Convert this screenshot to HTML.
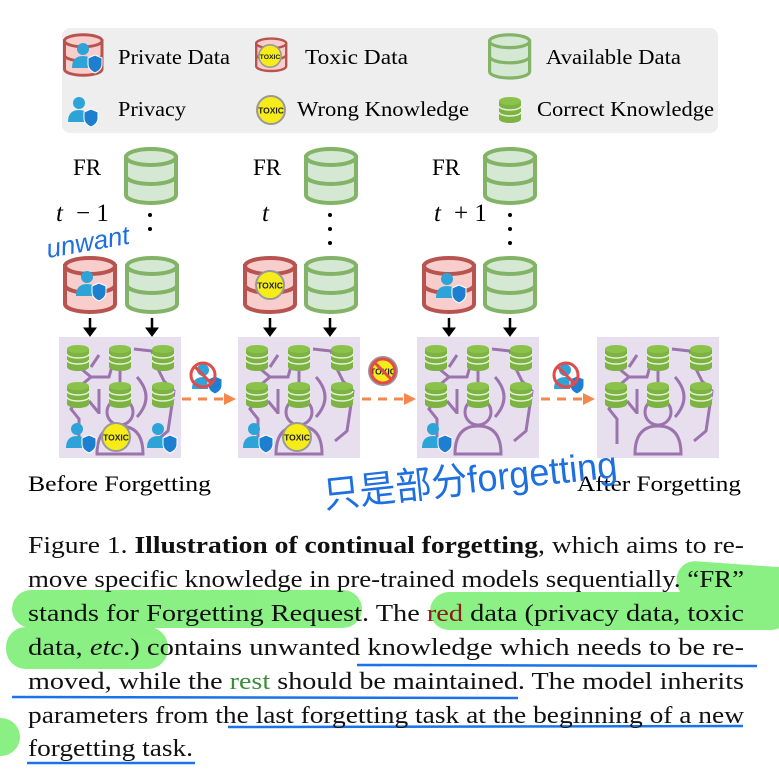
<!DOCTYPE html>
<html><head><meta charset="utf-8"><style>
html,body{margin:0;padding:0;background:#fff;}
svg{display:block;}
</style></head><body>
<svg width="779" height="778" viewBox="0 0 779 778" xmlns="http://www.w3.org/2000/svg" font-family="'Liberation Serif', serif">
<defs>
<g id="dbg">
<path d="M2 9 v38 a25 8 0 0 0 50 0 v-38 z" fill="#d5e8d4" stroke="#82b366" stroke-width="4"/>
<ellipse cx="27" cy="9" rx="25" ry="8" fill="#d5e8d4" stroke="#82b366" stroke-width="4"/>
<path d="M2 28 a25 8 0 0 0 50 0" fill="none" stroke="#82b366" stroke-width="4"/>
</g>
<g id="dbr">
<path d="M2 9 v38 a25 8 0 0 0 50 0 v-38 z" fill="#f8cecc" stroke="#b85450" stroke-width="4"/>
<ellipse cx="27" cy="9" rx="25" ry="8" fill="#f8cecc" stroke="#b85450" stroke-width="4"/>
<path d="M2 28 a25 8 0 0 0 50 0" fill="none" stroke="#b85450" stroke-width="4"/>
</g>
<g id="sdb">
<path d="M0 4 v18 a11 4 0 0 0 22 0 v-18 z" fill="#7cb342"/>
<ellipse cx="11" cy="4" rx="11" ry="4" fill="#8bc34a"/>
<path d="M0 9 a11 4 0 0 0 22 0 M0 15 a11 4 0 0 0 22 0" fill="none" stroke="#e6f0d8" stroke-width="1.5"/>
</g>
<g id="person">
<circle cx="11" cy="7" r="6" fill="#2ea3d8"/>
<path d="M0 26 q0 -12 11 -12 q11 0 11 12 z" fill="#2ea3d8"/>
<path d="M16 16 l7 -3 l7 3 v6 q0 6 -7 9 q-7 -3 -7 -9 z" fill="#1e7fd0" stroke="#fff" stroke-width="1"/>
</g>
<g id="toxic">
<circle cx="15" cy="15" r="14" fill="#f5ec1a" stroke="#999" stroke-width="2"/>
<text x="15" y="18.5" font-family="'Liberation Sans',sans-serif" font-size="8.5" font-weight="bold" text-anchor="middle" fill="#222">TOXIC</text>
</g>
<g id="model">
<rect x="0" y="0" width="122" height="121" fill="#e8dfee"/>
<g fill="none" stroke="#9b73ad" stroke-width="3">
<path d="M20 30 l12 10 l-12 10 M32 40 h18 l5 -18 M40 18 l-8 12 M61 22 v30 M75 12 l18 2 l3 10 M95 24 l10 20 l10 10 l-6 40 l-12 10 M20 60 l-8 12 l8 10 v25 M40 52 v25 M78 40 q18 20 0 40 M30 64 l10 12"/>
<circle cx="61" cy="75" r="13"/>
<path d="M38 117 q0 -28 23 -28 q23 0 23 28 z"/>
</g>
<use href="#sdb" x="8" y="8"/><use href="#sdb" x="50" y="8"/><use href="#sdb" x="93" y="8"/>
<use href="#sdb" x="8" y="45"/><use href="#sdb" x="50" y="45"/><use href="#sdb" x="93" y="45"/>
</g>
<g id="nope">
<circle cx="15" cy="15" r="12" fill="none" stroke="#e24b4b" stroke-width="3"/>
<path d="M6 6 L24 24" stroke="#e24b4b" stroke-width="3"/>
</g>
</defs>

<!-- legend -->
<rect x="62" y="28" width="656" height="105" rx="8" fill="#eeeeee"/>
<g transform="translate(63,34) scale(0.75)"><use href="#dbr"/></g>
<use href="#person" x="72" y="42"/>
<text x="118" y="64" font-size="21" textLength="112" lengthAdjust="spacingAndGlyphs">Private Data</text>
<use href="#dbr" x="0" y="0" transform="translate(255,38) scale(0.6)"/>
<use href="#toxic" transform="translate(258,44) scale(0.8)"/>
<text x="305" y="64" font-size="21" textLength="103" lengthAdjust="spacingAndGlyphs">Toxic Data</text>
<g transform="translate(488,34) scale(0.8)"><use href="#dbg"/></g>
<text x="546" y="64" font-size="21" textLength="135" lengthAdjust="spacingAndGlyphs">Available Data</text>
<use href="#person" x="68" y="96"/>
<text x="118" y="116" font-size="21" textLength="68" lengthAdjust="spacingAndGlyphs">Privacy</text>
<use href="#toxic" x="256" y="95"/>
<text x="297" y="116" font-size="21" textLength="172" lengthAdjust="spacingAndGlyphs">Wrong Knowledge</text>
<use href="#sdb" x="499" y="97"/>
<text x="537" y="116" font-size="21" textLength="177" lengthAdjust="spacingAndGlyphs">Correct Knowledge</text>

<!-- columns -->
<g font-size="23">
<text x="73" y="175">FR</text><text x="253" y="175">FR</text><text x="432" y="175">FR</text>
<text x="56" y="221" font-style="italic" font-size="25">t</text><text x="76" y="221" font-size="25">− 1</text>
<text x="262" y="221" font-style="italic" font-size="25">t</text>
<text x="434" y="221" font-style="italic" font-size="25">t</text><text x="454" y="221" font-size="25">+ 1</text>
</g>
<use href="#dbg" x="124" y="148"/><use href="#dbg" x="304" y="148"/><use href="#dbg" x="483" y="148"/>
<g fill="#000">
<circle cx="150" cy="215" r="2"/><circle cx="150" cy="229" r="2"/>
<circle cx="330" cy="215" r="2"/><circle cx="330" cy="229" r="2"/><circle cx="330" cy="243" r="2"/>
<circle cx="510" cy="215" r="2"/><circle cx="510" cy="229" r="2"/><circle cx="510" cy="243" r="2"/>
</g>
<use href="#dbr" x="63" y="257"/><use href="#person" x="76" y="270"/>
<use href="#dbg" x="125" y="257"/>
<use href="#dbr" x="243" y="257"/><use href="#toxic" x="255" y="270"/>
<use href="#dbg" x="304" y="257"/>
<use href="#dbr" x="422" y="257"/><use href="#person" x="436" y="272"/>
<use href="#dbg" x="483" y="257"/>
<g stroke="#000" stroke-width="2.5" fill="#000">
<path d="M90 318 v12 M152 318 v12 M270 318 v12 M330 318 v12 M449 318 v12 M510 318 v12"/>
<path d="M84 328 h12 l-6 8 z M146 328 h12 l-6 8 z M264 328 h12 l-6 8 z M324 328 h12 l-6 8 z M443 328 h12 l-6 8 z M504 328 h12 l-6 8 z" stroke-width="1"/>
</g>

<use href="#model" x="59" y="337"/><use href="#model" x="238" y="337"/>
<use href="#model" x="417" y="337"/><use href="#model" x="597" y="337"/>
<use href="#person" x="66" y="422"/><use href="#toxic" x="101" y="422"/><use href="#person" x="147" y="422"/>
<use href="#person" x="243" y="422"/><use href="#toxic" x="282" y="422"/>
<use href="#person" x="422" y="422"/>

<g stroke="#f4874b" stroke-width="3" stroke-dasharray="9,7" fill="none">
<path d="M182 399 h42 M362 399 h42 M541 399 h42"/>
</g>
<g fill="#f4874b">
<path d="M224 393 l12 6 l-12 6 z M404 393 l12 6 l-12 6 z M583 393 l12 6 l-12 6 z"/>
</g>
<use href="#person" x="192" y="363"/><use href="#nope" x="188" y="360"/>
<use href="#toxic" x="368" y="356"/><use href="#nope" x="368" y="356"/>
<use href="#person" x="554" y="363"/><use href="#nope" x="551" y="360"/>

<text x="28" y="491" font-size="22" textLength="183" lengthAdjust="spacingAndGlyphs">Before Forgetting</text>
<text x="577" y="491" font-size="22" textLength="164" lengthAdjust="spacingAndGlyphs">After Forgetting</text>

<!-- handwriting -->
<text x="48" y="258" font-family="'Liberation Sans',sans-serif" font-style="italic" font-size="26" fill="#1e6fe0" transform="rotate(-10 48 258)">unwant</text>
<text x="325" y="508" font-family="'Liberation Sans','Noto Sans CJK SC',sans-serif" font-size="38" fill="#1e6fe0" textLength="295" lengthAdjust="spacingAndGlyphs" transform="rotate(-6 325 508)">只是部分forgetting</text>

<!-- highlights -->
<g fill="#77ee6e" opacity="0.85">
<rect x="678" y="560" width="120" height="38" rx="18" transform="rotate(4 678 560)"/>
<rect x="12" y="590" width="350" height="38" rx="19"/>
<rect x="430" y="592" width="360" height="38" rx="19"/>
<rect x="6" y="627" width="162" height="42" rx="20"/>
<rect x="-20" y="718" width="40" height="38" rx="19"/>
</g>
<g stroke="#1a73e8" stroke-width="2.5" fill="none">
<path d="M357 665 L757 666 M12 697 L518 698 M228 727 L743 726 M27 763 L195 763"/>
</g>

<!-- caption -->
<g font-size="24" fill="#111">
<text x="28" y="553" textLength="716" lengthAdjust="spacingAndGlyphs">Figure 1. <tspan font-weight="bold">Illustration of continual forgetting</tspan>, which aims to re-</text>
<text x="28" y="587" textLength="716" lengthAdjust="spacingAndGlyphs">move specific knowledge in pre-trained models sequentially. “FR”</text>
<text x="28" y="621" textLength="716" lengthAdjust="spacingAndGlyphs">stands for Forgetting Request.  The <tspan fill="#8b1a1a">red</tspan> data (privacy data, toxic</text>
<text x="28" y="655" textLength="716" lengthAdjust="spacingAndGlyphs">data, <tspan font-style="italic">etc</tspan>.) contains unwanted knowledge which needs to be re-</text>
<text x="28" y="689" textLength="716" lengthAdjust="spacingAndGlyphs">moved, while the <tspan fill="#3a8f3a">rest</tspan> should be maintained.  The model inherits</text>
<text x="28" y="723" textLength="716" lengthAdjust="spacingAndGlyphs">parameters from the last forgetting task at the beginning of a new</text>
<text x="28" y="756" textLength="165" lengthAdjust="spacingAndGlyphs">forgetting task.</text>
</g>
</svg>
</body></html>
